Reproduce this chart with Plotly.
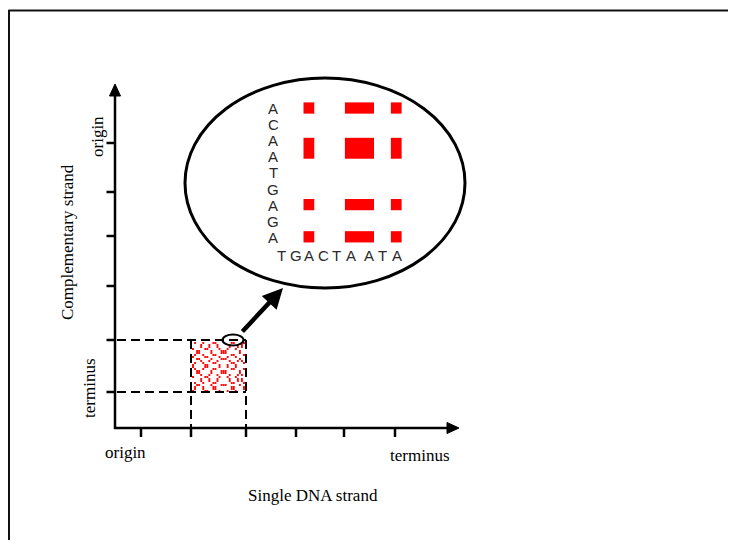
import plotly.graph_objects as go

# ---------------- data ----------------
x_axis_labels = ["origin", "terminus"]
y_axis_labels = ["origin", "terminus"]
x_title = "Single DNA strand"
y_title = "Complementary strand"
n_x_ticks = 6
n_y_ticks = 6

# zoomed inset sequences
inset_vertical = list("ACAATGAGA")      # top to bottom
inset_horizontal = list("TGACTAATA")    # left to right
inset_gap_after = 5                     # visual gap after this letter index
highlight_base = "A"

# sequences behind the dot-plot patch
dot_seq_x = "GATTCAGGCTAACGTTTGCAAGCTCA"
dot_seq_y = "ACCGTTAGTCAGGATTCGCCATAAG"

# ---------------- layout constants (screen pixel space) ----------------
OFF = 8                          # page body margin
W, H = 736, 548                  # window size
FW, FH = W - 2 * OFF, H - 2 * OFF  # figure size (fits without scrollbars)
AX_X0, AX_Y0 = 115, 428          # axis origin
AX_XEND, AX_YEND = 459, 84       # arrow tips
X_TICK_PX = [141, 191, 246, 296, 344, 395]
Y_TICK_PX = [143, 192, 236, 286, 340, 392]
SERIF = "Liberation Serif, Times New Roman, serif"
SANS = "Liberation Sans, Arial, sans-serif"
X_MAX, Y_MAX = OFF + FW, OFF + FH


def dom_x(p0, p1):
    return [(p0 - OFF) / FW, (p1 - OFF) / FW]


def dom_y(p0, p1):  # p0 top pixel, p1 bottom pixel
    return [1 - (p1 - OFF) / FH, 1 - (p0 - OFF) / FH]


fig = go.Figure()
shapes = []
annotations = []

# outer frame (continues beyond the canvas on the right / bottom)
shapes.append(dict(type="line", xref="x", yref="y", x0=8.5, y0=10.5, x1=X_MAX + 20, y1=10.5,
                   line=dict(color="#111", width=2)))
shapes.append(dict(type="line", xref="x", yref="y", x0=9, y0=10, x1=9, y1=Y_MAX + 20,
                   line=dict(color="#111", width=2)))

# axes lines
shapes.append(dict(type="line", xref="x", yref="y", x0=AX_X0, y0=AX_Y0 + 1, x1=AX_X0, y1=AX_YEND + 10,
                   line=dict(color="black", width=2.5)))
shapes.append(dict(type="line", xref="x", yref="y", x0=AX_X0 - 1, y0=AX_Y0, x1=AX_XEND - 10, y1=AX_Y0,
                   line=dict(color="black", width=2.5)))
# arrow heads
shapes.append(dict(type="path", xref="x", yref="y",
                   path=f"M {AX_X0} {AX_YEND} L {AX_X0-5.5} {AX_YEND+12} L {AX_X0+5.5} {AX_YEND+12} Z",
                   fillcolor="black", line=dict(color="black", width=1)))
shapes.append(dict(type="path", xref="x", yref="y",
                   path=f"M {AX_XEND} {AX_Y0} L {AX_XEND-12} {AX_Y0-5.5} L {AX_XEND-12} {AX_Y0+5.5} Z",
                   fillcolor="black", line=dict(color="black", width=1)))

# ticks
for k in range(n_x_ticks):
    px = X_TICK_PX[k]
    shapes.append(dict(type="line", xref="x", yref="y", x0=px, y0=AX_Y0, x1=px, y1=AX_Y0 + 9,
                       line=dict(color="black", width=2.5)))
for k in range(n_y_ticks):
    py = Y_TICK_PX[k]
    shapes.append(dict(type="line", xref="x", yref="y", x0=AX_X0 - 8.5, y0=py, x1=AX_X0, y1=py,
                       line=dict(color="black", width=2.5)))

# dashed guide lines
dash = "9px,5px"
for py in (340, 392):
    shapes.append(dict(type="line", xref="x", yref="y", x0=AX_X0 + 2, y0=py, x1=246, y1=py,
                       line=dict(color="black", width=2, dash=dash)))
for px in (191, 246):
    shapes.append(dict(type="line", xref="x", yref="y", x0=px, y0=340, x1=px, y1=AX_Y0,
                       line=dict(color="black", width=2, dash=dash)))

# big zoom ellipse and small ellipse
shapes.append(dict(type="circle", xref="x", yref="y", x0=185, y0=78, x1=465, y1=288,
                   line=dict(color="black", width=3)))
shapes.append(dict(type="circle", xref="x", yref="y", x0=222.5, y0=334.5, x1=243.5, y1=345.5,
                   line=dict(color="black", width=2)))

# axis labels
annotations += [
    dict(text=x_axis_labels[0], x=125, y=452, xref="x", yref="y", showarrow=False,
         font=dict(family=SERIF, size=17, color="black")),
    dict(text=x_axis_labels[1], x=420, y=455, xref="x", yref="y", showarrow=False,
         font=dict(family=SERIF, size=17, color="black")),
    dict(text=x_title, x=313, y=495, xref="x", yref="y", showarrow=False,
         font=dict(family=SERIF, size=17, color="black")),
    dict(text=y_axis_labels[0], x=97, y=137, xref="x", yref="y", showarrow=False, textangle=-90,
         font=dict(family=SERIF, size=17, color="black")),
    dict(text=y_axis_labels[1], x=89, y=388, xref="x", yref="y", showarrow=False, textangle=-90,
         font=dict(family=SERIF, size=17, color="black")),
    dict(text=y_title, x=67, y=242, xref="x", yref="y", showarrow=False, textangle=-90,
         font=dict(family=SERIF, size=17, color="black")),
]

# zoom arrow
annotations.append(dict(x=283, y=288, ax=241, ay=333, xref="x", yref="y", axref="x", ayref="y",
                        text="", showarrow=True, arrowhead=2, arrowsize=0.9, arrowwidth=4.5,
                        arrowcolor="black", standoff=0))

# ---------------- inset (axes x3 / y3 in letter-index units) ----------------
IN_X0, IN_DX = 281.7, 13.8      # pixel of horizontal letter 0, pixel step
IN_Y0, IN_DY = 108.5, 16.1      # pixel of vertical letter 0, pixel step
GAP = 0.33
inset_px = (265, 415)
inset_py = (95, 268)
x3_range = [(inset_px[0] - IN_X0) / IN_DX, (inset_px[1] - IN_X0) / IN_DX]
y3_range = [(inset_py[1] - IN_Y0) / IN_DY, (inset_py[0] - IN_Y0) / IN_DY]

h_pos = [i + (GAP if i > inset_gap_after else 0) for i in range(len(inset_horizontal))]
v_pos = list(range(len(inset_vertical)))

for i, ch in enumerate(inset_horizontal):
    annotations.append(dict(text=ch, x=h_pos[i], y=9.1, xref="x3", yref="y3", showarrow=False,
                            font=dict(family=SANS, size=15, color="#2a2a2a")))
for j, ch in enumerate(inset_vertical):
    annotations.append(dict(text=ch, x=-0.63, y=v_pos[j], xref="x3", yref="y3", showarrow=False,
                            font=dict(family=SANS, size=15, color="#2a2a2a")))


def runs(idx):
    out, cur = [], [idx[0]]
    for a in idx[1:]:
        if a == cur[-1] + 1:
            cur.append(a)
        else:
            out.append(cur)
            cur = [a]
    out.append(cur)
    return out


col_idx = [i for i, c in enumerate(inset_horizontal) if c == highlight_base]
row_idx = [j for j, c in enumerate(inset_vertical) if c == highlight_base]
for cr in runs(col_idx):
    for rr in runs(row_idx):
        x0 = h_pos[cr[0]] - 0.42
        x1 = h_pos[cr[-1]] + 0.36
        y0 = v_pos[rr[0]] - 0.38
        y1 = v_pos[rr[-1]] + 0.32
        if len(rr) > 1:
            y0 += 0.2
            y1 -= 0.2
        shapes.append(dict(type="rect", xref="x3", yref="y3", x0=x0, x1=x1, y0=y0, y1=y1,
                           fillcolor="#ff0000", line=dict(width=0)))

# ---------------- dot-plot patch (axes x2 / y2 in sequence-index units) ----------------
dx, dy = [], []
for i, a in enumerate(dot_seq_x):
    for j, b in enumerate(dot_seq_y):
        if a == b:
            dx.append(i)
            dy.append(j)
fig.add_trace(go.Scatter(x=dx, y=dy, mode="markers", xaxis="x2", yaxis="y2",
                         marker=dict(symbol="square", size=1.9, color="#ff0000", line=dict(width=0)),
                         hoverinfo="skip", showlegend=False))

# base trace for main pixel axes
fig.add_trace(go.Scatter(x=[OFF, X_MAX], y=[OFF, Y_MAX], mode="markers", marker=dict(opacity=0),
                         hoverinfo="skip", showlegend=False))

patch = (192, 245, 342, 392)
fig.update_layout(
    width=FW, height=FH, autosize=False,
    margin=dict(l=0, r=0, t=0, b=0),
    paper_bgcolor="white", plot_bgcolor="rgba(0,0,0,0)",
    showlegend=False,
    xaxis=dict(range=[OFF, X_MAX], visible=False, domain=[0, 1]),
    yaxis=dict(range=[Y_MAX, OFF], visible=False, domain=[0, 1]),
    xaxis2=dict(domain=dom_x(patch[0], patch[1]), range=[-0.5, len(dot_seq_x) - 0.5],
                visible=False, anchor="y2"),
    yaxis2=dict(domain=dom_y(patch[2], patch[3]), range=[len(dot_seq_y) - 0.5, -0.5],
                visible=False, anchor="x2"),
    xaxis3=dict(domain=dom_x(*inset_px), range=x3_range, visible=False, anchor="y3"),
    yaxis3=dict(domain=dom_y(*inset_py), range=y3_range, visible=False, anchor="x3"),
    shapes=shapes,
    annotations=annotations,
)

fig.write_html("out.html")
